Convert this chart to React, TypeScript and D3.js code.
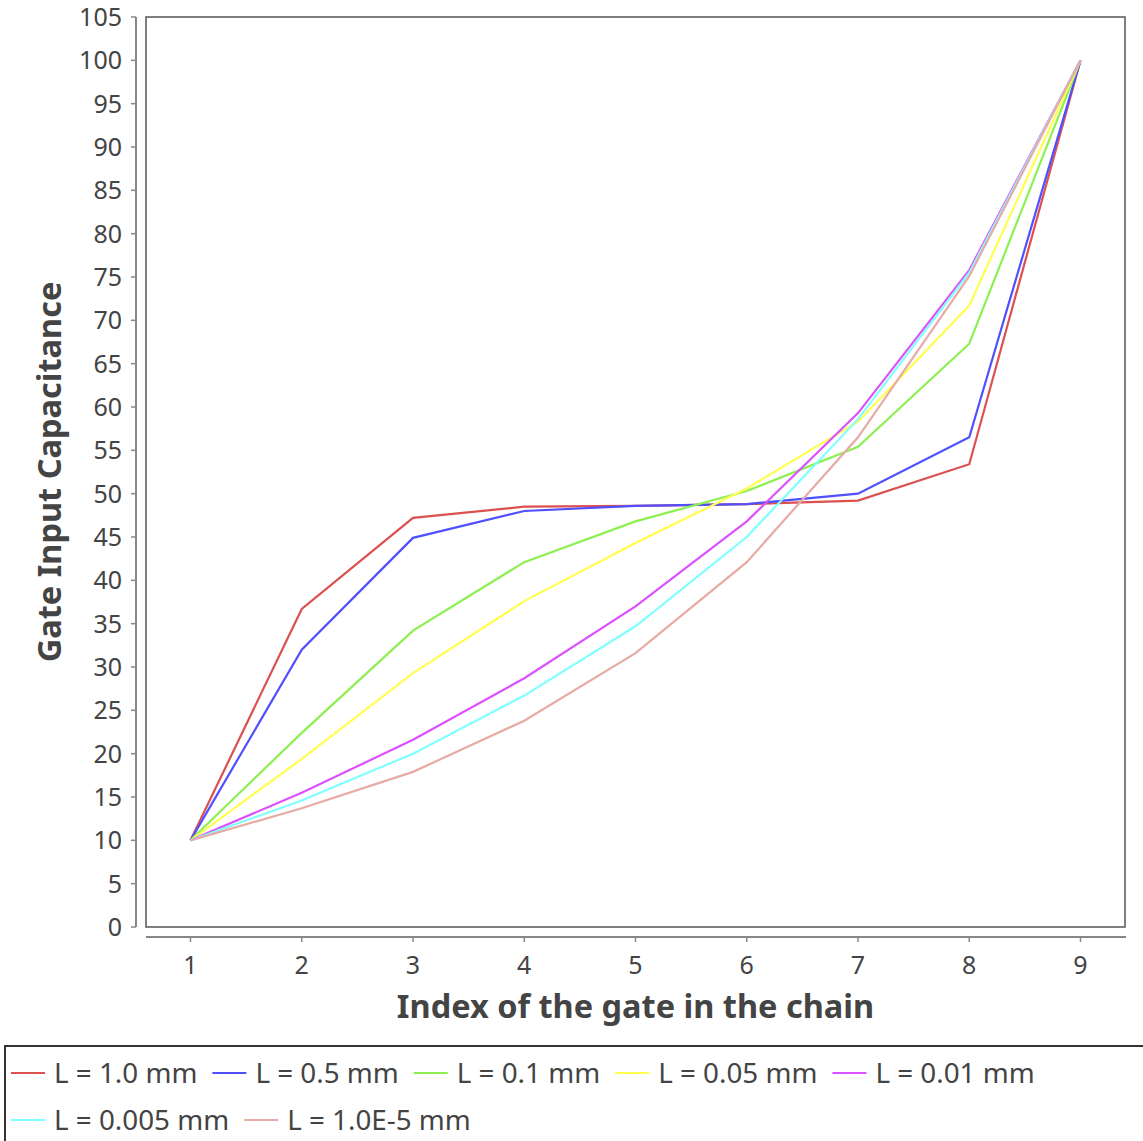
import React from "react";
import * as d3 from "d3";

const gateIndex = [1, 2, 3, 4, 5, 6, 7, 8, 9];
const seriesNames = ["L = 1.0 mm", "L = 0.5 mm", "L = 0.1 mm", "L = 0.05 mm", "L = 0.01 mm", "L = 0.005 mm", "L = 1.0E-5 mm"];
const seriesColors = ["#dc5050", "#5050ff", "#8cf050", "#ffff50", "#dc50ff", "#80ffff", "#e8aaa4"];
const s1_0 = [10, 36.7, 47.2, 48.5, 48.6, 48.8, 49.2, 53.4, 100];
const s0_5 = [10, 32.0, 44.9, 48.0, 48.6, 48.8, 50.0, 56.5, 100];
const s0_1 = [10, 22.4, 34.2, 42.1, 46.8, 50.3, 55.4, 67.3, 100];
const s0_05 = [10, 19.4, 29.3, 37.6, 44.3, 50.6, 58.3, 71.7, 100];
const s0_01 = [10, 15.5, 21.6, 28.7, 37.0, 46.8, 59.3, 75.8, 100];
const s0_005 = [10, 14.6, 20.0, 26.7, 34.7, 45.0, 58.6, 75.5, 100];
const s1e_5 = [10, 13.7, 17.9, 23.8, 31.6, 42.1, 56.5, 75.1, 100];
const seriesValues = [s1_0, s0_5, s0_1, s0_05, s0_01, s0_005, s1e_5];
const yTicks = d3.range(0, 106, 5);
const xTicks = gateIndex;
const xTitle = "Index of the gate in the chain";
const yTitle = "Gate Input Capacitance";

const FONT = "'Noto Sans', 'Open Sans', sans-serif";

function measure(text: string, font: string): number {
  const c = document.createElement("canvas");
  const ctx = c.getContext("2d");
  if (!ctx) return text.length * 13;
  ctx.font = font;
  return ctx.measureText(text).width;
}

export default function App() {
  const W = 1143, H = 1141;
  const plot = { left: 146, right: 1125, top: 17, bottom: 927 };
  const x = d3.scaleLinear().domain([0.6, 9.4]).range([plot.left, plot.right]);
  const y = d3.scaleLinear().domain([0, 105]).range([plot.bottom, plot.top]);
  const line = d3.line<number>().x((_, i) => x(gateIndex[i])).y((d) => y(d));
  const yAxisX = 136;
  const xAxisY = 937;

  const legendSize = 27.8;
  const legendFont = `${legendSize}px 'Noto Sans'`;
  const legendLeft = 5, legendTop = 1046;
  const rowH = 47;
  const maxRight = 1138;
  const lineLen = 34, lineGap = 9, itemGap = 15;
  const items: { name: string; color: string; x: number; row: number }[] = [];
  let cx = legendLeft + 6, row = 0;
  seriesNames.forEach((n, i) => {
    const w = lineLen + lineGap + measure(n, legendFont);
    if (cx + w > maxRight) { row++; cx = legendLeft + 6; }
    items.push({ name: n, color: seriesColors[i], x: cx, row });
    cx += w + itemGap;
  });

  return (
    <svg width={W} height={H} style={{ position: "absolute", left: 0, top: 0, background: "#fff" }}>
      <rect x={0} y={0} width={W} height={H} fill="#fff" />
      <rect x={plot.left} y={plot.top} width={plot.right - plot.left} height={plot.bottom - plot.top} fill="#fff" stroke="#555" strokeWidth={1.5} />
      {seriesValues.map((vals, i) => (
        <path key={i} d={line(vals) || ""} fill="none" stroke={seriesColors[i]} strokeWidth={2.2} strokeLinejoin="miter" />
      ))}
      <line x1={yAxisX} x2={yAxisX} y1={plot.top} y2={plot.bottom} stroke="#888" strokeWidth={2} />
      {yTicks.map((t) => (
        <g key={t}>
          <line x1={yAxisX - 5} x2={yAxisX} y1={y(t)} y2={y(t)} stroke="#888" strokeWidth={1.5} />
          <text x={122} y={y(t)} dy="0.36em" textAnchor="end" fontFamily={FONT} fontSize={25} fill="#444">{t}</text>
        </g>
      ))}
      <line x1={plot.left} x2={plot.right + 1} y1={xAxisY} y2={xAxisY} stroke="#888" strokeWidth={2} />
      {xTicks.map((t) => (
        <g key={t}>
          <line x1={x(t)} x2={x(t)} y1={xAxisY} y2={xAxisY + 5} stroke="#888" strokeWidth={1.5} />
          <text x={x(t)} y={974} textAnchor="middle" fontFamily={FONT} fontSize={25} fill="#444">{t}</text>
        </g>
      ))}
      <text x={(plot.left + plot.right) / 2} y={1018} textAnchor="middle" fontFamily={FONT} fontWeight="bold" fontSize={32.5} fill="#444">{xTitle}</text>
      <text transform={`translate(61, ${(plot.top + plot.bottom) / 2}) rotate(-90)`} textAnchor="middle" fontFamily={FONT} fontWeight="bold" fontSize={32.5} fill="#444">{yTitle}</text>
      <rect x={legendLeft} y={legendTop} width={W + 20} height={200} fill="#fff" stroke="#333" strokeWidth={2} />
      {items.map((it, i) => {
        const cy = legendTop + 27 + it.row * rowH;
        return (
          <g key={i}>
            <line x1={it.x} x2={it.x + lineLen} y1={cy} y2={cy} stroke={it.color} strokeWidth={2} />
            <text x={it.x + lineLen + lineGap} y={cy} dy="0.36em" fontFamily={FONT} fontSize={legendSize} fill="#444">{it.name}</text>
          </g>
        );
      })}
    </svg>
  );
}
